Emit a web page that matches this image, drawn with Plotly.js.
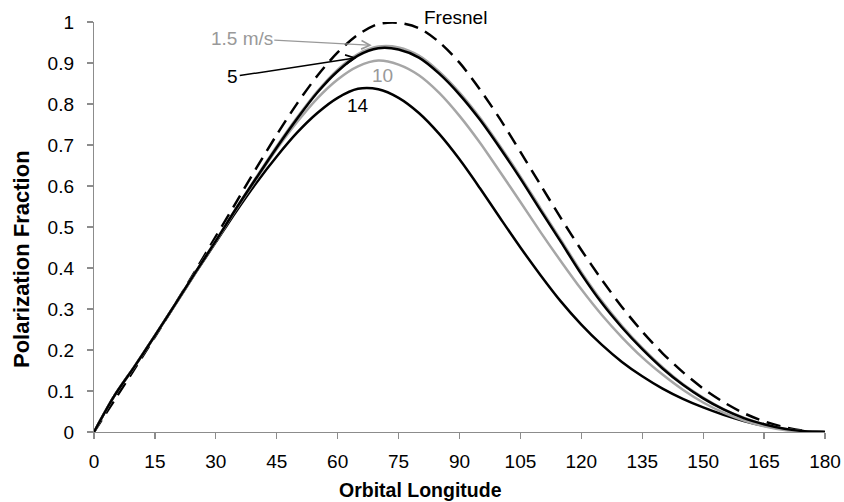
<!DOCTYPE html>
<html>
<head>
<meta charset="utf-8">
<script src="https://cdn.plot.ly/plotly-3.0.1.min.js"></script>
<style>html,body{margin:0;padding:0;background:#fff;}#chart{width:844px;height:502px;}</style>
</head>
<body>
<div id="chart"></div>
<script>
const longitude = [0,5,10,15,20,25,30,35,40,45,50,55,60,65,70,75,80,85,90,95,100,105,110,115,120,125,130,135,140,145,150,155,160,165,170,175,180];
const fresnel = [0,0.077,0.154,0.232,0.312,0.394,0.477,0.560,0.644,0.725,0.801,0.869,0.926,0.969,0.995,0.998,0.985,0.951,0.901,0.836,0.763,0.683,0.602,0.521,0.444,0.372,0.305,0.245,0.192,0.146,0.106,0.073,0.046,0.026,0.012,0.003,0];
const wind1_5 = [0,0.088,0.160,0.235,0.312,0.390,0.467,0.546,0.622,0.697,0.767,0.831,0.884,0.922,0.940,0.938,0.918,0.879,0.828,0.767,0.697,0.623,0.545,0.468,0.390,0.320,0.259,0.205,0.158,0.117,0.084,0.056,0.035,0.019,0.008,0.002,0];
const wind5 = [0,0.088,0.160,0.235,0.312,0.390,0.466,0.545,0.620,0.694,0.764,0.828,0.880,0.918,0.936,0.933,0.913,0.874,0.823,0.762,0.692,0.618,0.540,0.463,0.385,0.315,0.255,0.202,0.155,0.115,0.082,0.055,0.034,0.019,0.008,0.002,0];
const wind10 = [0,0.088,0.160,0.235,0.311,0.389,0.465,0.543,0.617,0.690,0.756,0.814,0.860,0.892,0.906,0.896,0.870,0.827,0.771,0.706,0.634,0.561,0.487,0.416,0.348,0.286,0.231,0.182,0.140,0.103,0.072,0.047,0.028,0.014,0.005,0.001,0];
const wind14 = [0,0.088,0.160,0.235,0.311,0.388,0.463,0.538,0.608,0.672,0.730,0.778,0.815,0.837,0.836,0.815,0.778,0.727,0.665,0.595,0.522,0.450,0.382,0.318,0.262,0.213,0.171,0.136,0.106,0.081,0.060,0.042,0.027,0.015,0.007,0.002,0];
const xTicks = [0,15,30,45,60,75,90,105,120,135,150,165,180];
const yTicks = [0,0.1,0.2,0.3,0.4,0.5,0.6,0.7,0.8,0.9,1];
const yTickText = ['0','0.1','0.2','0.3','0.4','0.5','0.6','0.7','0.8','0.9','1'];

const BLACK = '#000000', GREY = '#a6a6a6', GREYTEXT = '#999999';
const FONT = 'Liberation Sans, Arial, Helvetica, sans-serif';

const traces = [
  {x: longitude, y: fresnel, name: 'Fresnel', mode: 'lines', line: {color: BLACK, width: 2.5, dash: '14px,8px', shape: 'spline', smoothing: 0.8}},
  {x: longitude, y: wind14, name: '14', mode: 'lines', line: {color: BLACK, width: 2.5, shape: 'spline', smoothing: 0.8}},
  {x: longitude, y: wind10, name: '10', mode: 'lines', line: {color: GREY, width: 2.5, shape: 'spline', smoothing: 0.8}},
  {x: longitude, y: wind1_5, name: '1.5 m/s', mode: 'lines', line: {color: GREY, width: 2.5, shape: 'spline', smoothing: 0.8}},
  {x: longitude, y: wind5, name: '5', mode: 'lines', line: {color: BLACK, width: 2.5, shape: 'spline', smoothing: 0.8}}
];

const layout = {
  width: 844, height: 502,
  margin: {l: 94, r: 19, t: 22, b: 70},
  paper_bgcolor: '#fff', plot_bgcolor: '#fff',
  showlegend: false,
  font: {family: FONT, size: 19, color: '#000'},
  xaxis: {
    range: [0, 180], tickvals: xTicks, ticktext: xTicks.map(String),
    showgrid: false, zeroline: false, showline: true, linecolor: '#8c8c8c', linewidth: 1.2,
    ticks: 'outside', ticklen: 6, tickcolor: '#8c8c8c', tickwidth: 1.2, ticklabelstandoff: 6,
    tickfont: {family: FONT, size: 19, color: '#000'}, fixedrange: true
  },
  yaxis: {
    range: [0, 1], tickvals: yTicks, ticktext: yTickText,
    showgrid: false, zeroline: false, showline: true, linecolor: '#8c8c8c', linewidth: 1.2,
    ticks: 'outside', ticklen: 6, tickcolor: '#8c8c8c', tickwidth: 1.2, ticklabelstandoff: 9,
    tickfont: {family: FONT, size: 19, color: '#000'}, fixedrange: true
  },
  annotations: [
    {xref: 'paper', yref: 'paper', x: (420 - 94) / 731, y: (432 - 490) / 410, xanchor: 'center', yanchor: 'middle', showarrow: false,
     text: '<b>Orbital Longitude</b>', font: {family: FONT, size: 19.5, color: '#000'}},
    {xref: 'paper', yref: 'paper', x: (21 - 94) / 731, y: (432 - 259) / 410, xanchor: 'center', yanchor: 'middle', textangle: -90, showarrow: false,
     text: '<b>Polarization Fraction</b>', font: {family: FONT, size: 22, color: '#000'}},
    {xref: 'x', yref: 'paper', x: 88.9, y: (432 - 5) / 410, showarrow: false, text: 'Fresnel', font: {family: FONT, size: 19, color: BLACK}},
    {xref: 'x', yref: 'y', x: 71.0, y: 0.870, showarrow: false, text: '10', font: {family: FONT, size: 19, color: GREYTEXT}},
    {xref: 'x', yref: 'y', x: 65.1, y: 0.797, showarrow: false, text: '14', font: {family: FONT, size: 19, color: BLACK}},
    {xref: 'x', yref: 'y', x: 68.4, y: 0.943, axref: 'pixel', ayref: 'pixel', ax: -130, ay: -7, showarrow: true,
     arrowhead: 5, arrowsize: 1.3, arrowwidth: 1.3, arrowcolor: GREYTEXT, standoff: 0,
     text: '1.5 m/s', font: {family: FONT, size: 19, color: GREYTEXT}},
    {xref: 'x', yref: 'y', x: 64.7, y: 0.913, axref: 'pixel', ayref: 'pixel', ax: -124, ay: 19, showarrow: true,
     arrowhead: 5, arrowsize: 1.2, arrowwidth: 1.5, arrowcolor: BLACK, standoff: 0,
     text: '5', font: {family: FONT, size: 19, color: BLACK}}
  ]
};

Plotly.newPlot('chart', traces, layout, {displayModeBar: false, staticPlot: true});
</script>
</body>
</html>
